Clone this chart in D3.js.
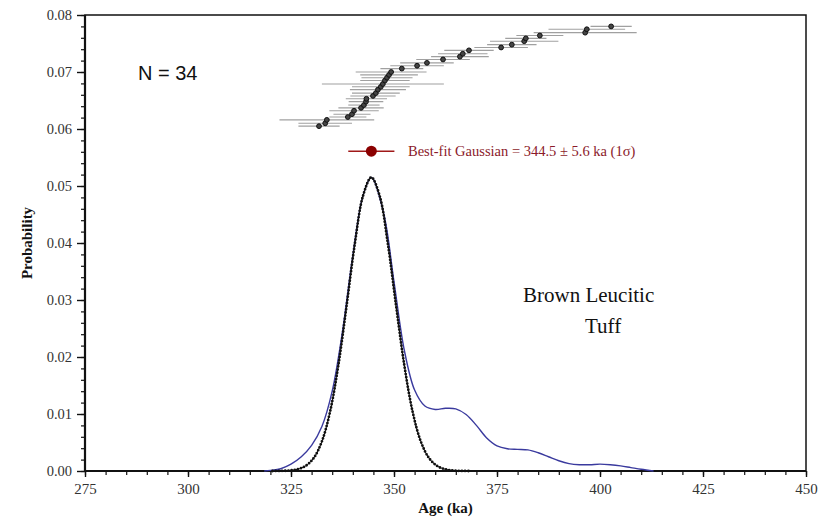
<!DOCTYPE html>
<html>
<head>
<meta charset="utf-8">
<script src="https://cdn.jsdelivr.net/npm/d3@7"></script>
<style>
  body { margin: 0; background: #fff; }
</style>
</head>
<body>
<div id="chart"></div>
<script>
var serif = "Liberation Serif";
var sans = "Liberation Sans";

// sample ages (ka), sorted, and their 1-sigma half widths
var ages = [331.8, 333.3, 333.7, 338.8, 339.8, 340.3, 342.0, 342.7, 343.2, 343.3,
            344.9, 345.6, 346.1, 346.8, 347.3, 347.8, 348.3, 348.8, 349.3, 351.9,
            355.6, 358.0, 361.9, 366.0, 366.7, 368.2, 376.0, 378.6, 381.6, 382.0,
            385.4, 396.4, 396.8, 402.7];
var errs = [5.0, 6.5, 11.5, 4.5, 4.5, 6.0, 5.5, 3.8, 4.2, 5.0,
            5.5, 5.8, 6.8, 7.0, 14.8, 6.0, 6.2, 7.0, 8.6, 5.2,
            6.5, 6.5, 6.5, 7.0, 6.0, 6.0, 6.5, 6.0, 8.3, 5.0,
            5.7, 12.5, 9.3, 5.0];
// vertical rank position of each sample
var rankY = [0.0605, 0.0610, 0.0616, 0.0621, 0.0626, 0.0632, 0.0637, 0.0642, 0.0648, 0.0653,
             0.0658, 0.0663, 0.0669, 0.0674, 0.0679, 0.0685, 0.0690, 0.0695, 0.0700, 0.0706,
             0.0711, 0.0716, 0.0722, 0.0727, 0.0732, 0.0738, 0.0743, 0.0748, 0.0754, 0.0759,
             0.0764, 0.0769, 0.0775, 0.0780];

// probability density curve (blue)
var pdfAge = [318.5, 320, 322.5, 325, 327.5, 330, 332.5, 335, 337.5, 340, 342.5, 344.5,
              347.5, 350, 352.5, 355, 357.5, 360, 362.5, 365, 367.5, 370, 372.5, 375,
              377.5, 380, 382.5, 385, 387.5, 390, 392.5, 395, 397.5, 400, 402.5, 405,
              407.5, 410, 413];
var pdfVal = [0, 0.0001, 0.0004, 0.0012, 0.0025, 0.0045, 0.0078, 0.0140, 0.0245, 0.0378, 0.0484, 0.0515,
              0.0452, 0.0332, 0.0212, 0.0142, 0.0114, 0.0108, 0.0110, 0.0109, 0.0099, 0.0080, 0.0058, 0.0044,
              0.0039, 0.0038, 0.0037, 0.0032, 0.0025, 0.0018, 0.0013, 0.0011, 0.0011, 0.0012, 0.0011, 0.0009,
              0.0006, 0.0003, 0];

// best-fit gaussian (dotted black)
var fitAge = [320.5, 322.5, 324.5, 326.5, 328.5, 330.5, 332.5, 334.5, 336.5, 338.5, 340.5, 342.5, 344.5,
              346.5, 348.5, 350.5, 352.5, 354.5, 356.5, 358.5, 360.5, 362.5, 364.5, 366.5, 368.5];
var fitVal = [0, 0.00002, 0.00009, 0.00029, 0.00087, 0.00226, 0.00519, 0.01045, 0.01856, 0.02901, 0.03990, 0.04832, 0.0515,
              0.04832, 0.03990, 0.02901, 0.01856, 0.01045, 0.00519, 0.00226, 0.00087, 0.00029, 0.00009, 0.00002, 0];

var fitMean = 344.5, fitSigma = 5.6, fitY = 0.0561;

var xTicks = [275, 300, 325, 350, 375, 400, 425, 450];
var yTicks = [0, 0.01, 0.02, 0.03, 0.04, 0.05, 0.06, 0.07, 0.08];

var width = 819, height = 522;
var margin = {top: 15, right: 13, bottom: 51, left: 85};

var svg = d3.select("#chart").append("svg")
    .attr("width", width)
    .attr("height", height);

var x = d3.scaleLinear().domain([275, 450]).range([margin.left, width - margin.right]);
var y = d3.scaleLinear().domain([0, 0.08]).range([height - margin.bottom, margin.top]);

// frame
svg.append("rect")
    .attr("x", x(275)).attr("y", y(0.08))
    .attr("width", x(450) - x(275)).attr("height", y(0) - y(0.08))
    .attr("fill", "none").attr("stroke", "#111").attr("stroke-width", 1.5);

// minor ticks
var xMinor = d3.range(275, 451, 5);
var yMinor = d3.range(0, 81, 2).map(d => d / 1000);

svg.append("g")
    .attr("transform", "translate(0," + y(0) + ")")
    .call(d3.axisBottom(x).tickValues(xMinor).tickSize(4).tickFormat(""))
    .call(g => g.select(".domain").remove())
    .selectAll("line").attr("stroke", "#111").attr("stroke-width", 1.2);

svg.append("g")
    .attr("transform", "translate(" + x(275) + ",0)")
    .call(d3.axisLeft(y).tickValues(yMinor).tickSize(4).tickFormat(""))
    .call(g => g.select(".domain").remove())
    .selectAll("line").attr("stroke", "#111").attr("stroke-width", 1.2);

// major ticks
var xAxis = svg.append("g")
    .attr("font-family", serif)
    .attr("transform", "translate(0," + y(0) + ")")
    .call(d3.axisBottom(x).tickValues(xTicks).tickSize(6).tickPadding(6));
xAxis.attr("font-family", serif);
xAxis.select(".domain").remove();
xAxis.selectAll("line").attr("stroke", "#111").attr("stroke-width", 1.4);
xAxis.selectAll("text").attr("font-size", 15).attr("fill", "#333");

var yAxis = svg.append("g")
    .attr("transform", "translate(" + x(275) + ",0)")
    .call(d3.axisLeft(y).tickValues(yTicks).tickSize(8).tickPadding(5).tickFormat(d3.format(".2f")));
yAxis.attr("font-family", serif);
yAxis.select(".domain").remove();
yAxis.selectAll("line").attr("stroke", "#111").attr("stroke-width", 1.4);
yAxis.selectAll("text").attr("font-size", 14.5).attr("fill", "#333");

// heavy left and bottom axis lines
svg.append("line")
    .attr("x1", x(275)).attr("x2", x(275)).attr("y1", y(0.08)).attr("y2", y(0))
    .attr("stroke", "#111").attr("stroke-width", 2.2);
svg.append("line")
    .attr("x1", x(275)).attr("x2", x(450)).attr("y1", y(0)).attr("y2", y(0))
    .attr("stroke", "#111").attr("stroke-width", 2.2);

// blue density curve
var pdfLine = d3.line()
    .x((d, i) => x(pdfAge[i]))
    .y(d => y(d))
    .curve(d3.curveCatmullRom);
svg.append("path")
    .datum(pdfVal)
    .attr("d", pdfLine)
    .attr("fill", "none")
    .attr("stroke", "#3a3a9e")
    .attr("stroke-width", 1.4);

// dotted gaussian
var fitLine = d3.line()
    .x((d, i) => x(fitAge[i]))
    .y(d => y(d))
    .curve(d3.curveCatmullRom);
svg.append("path")
    .datum(fitVal)
    .attr("d", fitLine)
    .attr("fill", "none")
    .attr("stroke", "#111")
    .attr("stroke-width", 1);
svg.append("path")
    .datum(fitVal)
    .attr("d", fitLine)
    .attr("fill", "none")
    .attr("stroke", "#111")
    .attr("stroke-width", 2.8)
    .attr("stroke-linecap", "round")
    .attr("stroke-dasharray", "0 3.2");

// error bars
svg.append("g")
    .selectAll("line")
    .data(ages)
    .join("line")
    .attr("x1", (d, i) => x(d - errs[i]))
    .attr("x2", (d, i) => x(d + errs[i]))
    .attr("y1", (d, i) => y(rankY[i]))
    .attr("y2", (d, i) => y(rankY[i]))
    .attr("stroke", "#a0a0a0")
    .attr("stroke-width", 1.1);

svg.append("g")
    .selectAll("circle")
    .data(ages)
    .join("circle")
    .attr("cx", d => x(d))
    .attr("cy", (d, i) => y(rankY[i]))
    .attr("r", 2.4)
    .attr("fill", "#444")
    .attr("stroke", "#111")
    .attr("stroke-width", 1);

// best-fit marker
svg.append("line")
    .attr("x1", x(fitMean - fitSigma)).attr("x2", x(fitMean + fitSigma))
    .attr("y1", y(fitY)).attr("y2", y(fitY))
    .attr("stroke", "#a01818").attr("stroke-width", 1.5);
svg.append("circle")
    .attr("cx", x(fitMean)).attr("cy", y(fitY)).attr("r", 5.5)
    .attr("fill", "#8b0000");
svg.append("text")
    .attr("x", 408).attr("y", y(fitY) + 5)
    .attr("font-size", 14.5)
    .attr("font-family", serif)
    .attr("fill", "#8b1a2a")
    .text("Best-fit Gaussian = 344.5 \u00b1 5.6 ka (1\u03c3)");

// annotations
svg.append("text")
    .attr("x", 138).attr("y", 80)
    .attr("font-size", 20)
    .attr("font-family", sans)
    .attr("fill", "#111")
    .text("N = 34");

svg.append("text")
    .attr("x", 523).attr("y", 302)
    .attr("font-size", 21)
    .attr("font-family", serif)
    .attr("fill", "#111")
    .text("Brown Leucitic");
svg.append("text")
    .attr("x", 585).attr("y", 333)
    .attr("font-size", 21)
    .attr("font-family", serif)
    .attr("fill", "#111")
    .text("Tuff");

// axis titles
svg.append("text")
    .attr("x", x(362.5)).attr("y", 513)
    .attr("text-anchor", "middle")
    .attr("font-size", 15)
    .attr("font-weight", "bold")
    .attr("font-family", serif)
    .attr("fill", "#111")
    .text("Age (ka)");

svg.append("text")
    .attr("transform", "translate(32," + y(0.04) + ") rotate(-90)")
    .attr("text-anchor", "middle")
    .attr("font-size", 15)
    .attr("font-weight", "bold")
    .attr("font-family", serif)
    .attr("fill", "#111")
    .text("Probability");
</script>
</body>
</html>
